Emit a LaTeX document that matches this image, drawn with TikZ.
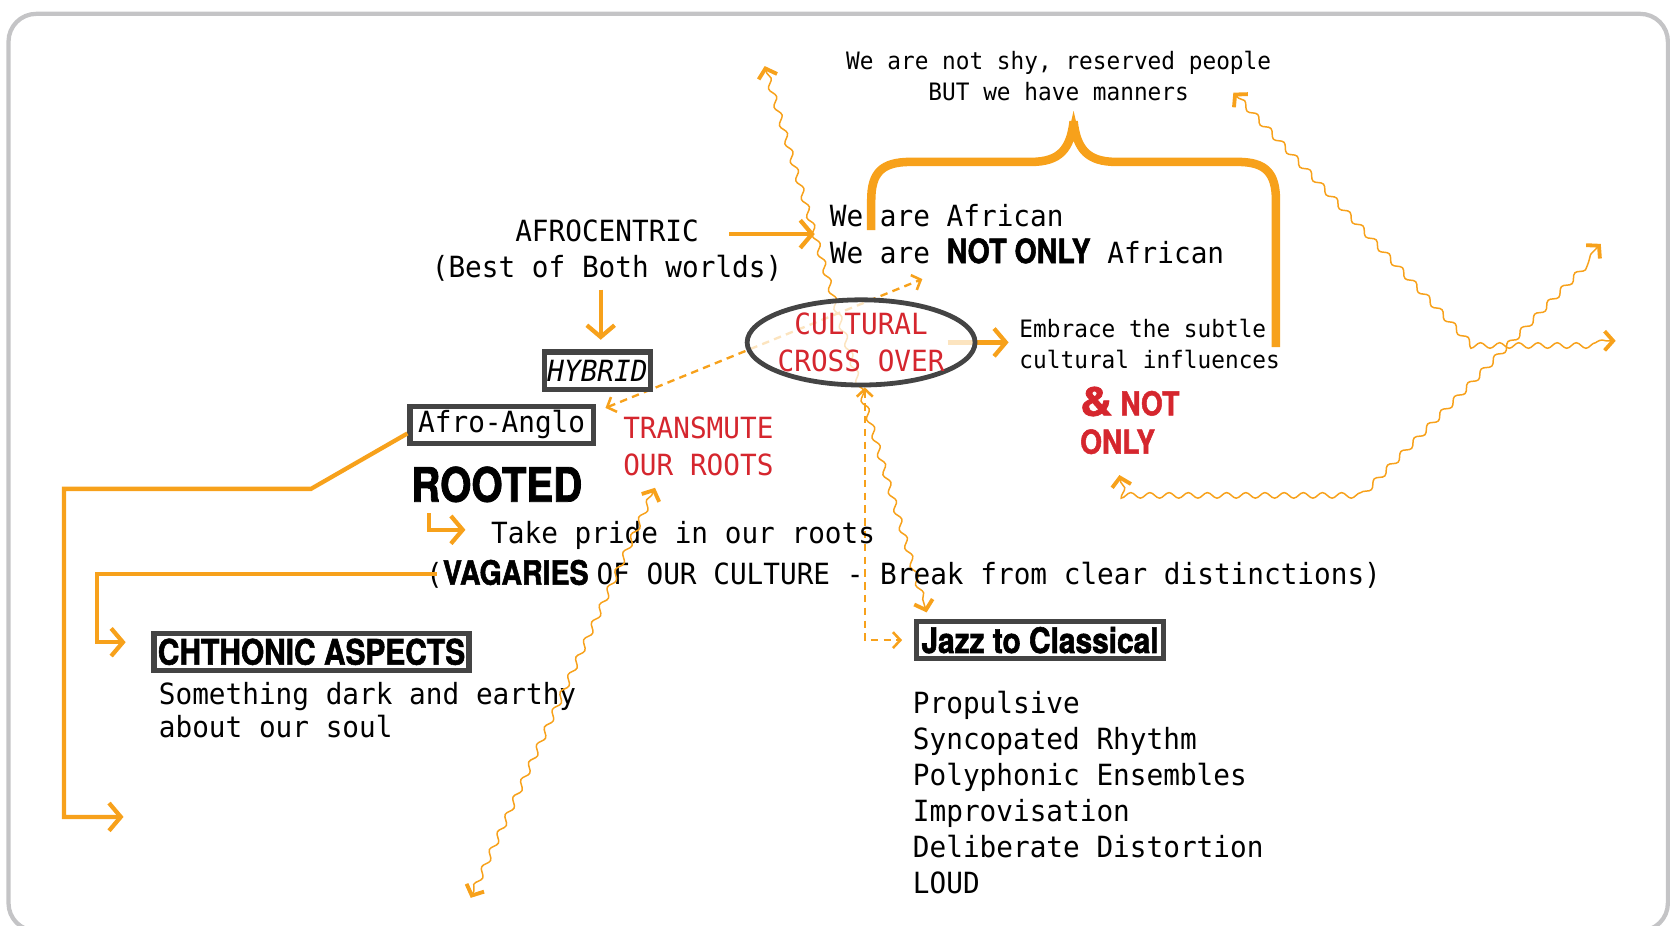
\documentclass[tikz,border=0pt]{standalone}
\usepackage{fontspec}
\usepackage{graphicx}
\usetikzlibrary{arrows.meta,decorations.pathmorphing,shapes.geometric}

\newfontfamily\monofont[FakeStretch=0.95]{DejaVu Sans Mono}
\newfontfamily\heavyfont[FakeStretch=0.85,FakeBold=1.6]{TeX Gyre Heros}

\newcommand\mainmono{\monofont\fontsize{27.4pt}{34pt}\selectfont}
\newcommand\smallmono{\monofont\fontsize{22.5pt}{29pt}\selectfont}
\newcommand\heavy[2]{\heavyfont\bfseries\fontsize{#1}{#2}\selectfont}

\definecolor{orng}{RGB}{247,161,27}
\definecolor{redtext}{RGB}{213,38,46}
\definecolor{boxgray}{RGB}{68,68,68}
\definecolor{framegray}{RGB}{196,196,198}

\pgfdeclarelayer{behind}
\pgfsetlayers{behind,main}

\tikzset{
  bigbarb/.tip={Straight Barb[length=11pt,width=26pt]},
  wavebarb/.tip={Straight Barb[length=8pt,width=18pt,line width=3.6pt]},
  dashbarb/.tip={Straight Barb[length=7pt,width=15pt,line width=2.4pt]},
  thickline/.style={draw=orng, line width=4pt},
  thickarrow/.style={thickline, -bigbarb},
  wavy/.style={draw=orng, line width=1.4pt, decorate,
    decoration={snake, amplitude=2.6pt, segment length=18pt, pre length=7pt, post length=7pt}},
  dashedline/.style={draw=orng, line width=2.2pt, dash pattern=on 7pt off 5pt},
  framebox/.style={draw=boxgray, line width=5pt, fill=white, inner sep=0pt},
  txt/.style={inner sep=0pt},
}

\begin{document}
\begin{tikzpicture}[x=1pt,y=-1pt]
\useasboundingbox (0,0) rectangle (1568,868.5);
\draw[framegray, line width=4pt, rounded corners=26pt] (8,13) rectangle (1566,874);

% free ends of connectors
\coordinate (topwave) at (718,62);
\coordinate (crossne) at (866,262);
\coordinate (lowend) at (116,767);
\coordinate (w2top) at (615,458);
\coordinate (w2bot) at (442,843);
\coordinate (w3start) at (1158,87);
\coordinate (w3end) at (1517,320);
\coordinate (w4start) at (1051,446);
\coordinate (w4end) at (1503,229);

% texts (multi-line nodes are placed by the baseline of their last line)
\node[txt, font=\smallmono, align=center, anchor=base] (shy) at (994,94)
  {We are not shy, reserved people\\BUT we have manners};
\node[txt, font=\mainmono, align=center, anchor=base] (afro) at (570,261)
  {AFROCENTRIC\\(Best of Both worlds)};
\node[txt, font=\mainmono, align=left, anchor=base west] (weare) at (779,247)
  {We are African\\We are {\heavy{31.5pt}{34pt}NOT ONLY} African};
\node[ellipse, draw=boxgray, line width=4.5pt, fill=white, fill opacity=0.72, text opacity=1,
      minimum width=214pt, minimum height=80pt, inner xsep=-12pt, inner ysep=-6pt,
      font=\mainmono, text=redtext, align=center] (cco) at (808.5,321.5) {CULTURAL\\CROSS OVER};
\node[txt, font=\smallmono, align=left, anchor=base west] (embr) at (957,346)
  {Embrace the subtle\\cultural influences};
\node[txt, font={\heavy{31pt}{36pt}}, text=redtext, align=left, anchor=base west] (notonly) at (1014,426)
  {\scalebox{1.6}[1.2]{\&} NOT\\ONLY};
\node[framebox, minimum width=99pt, minimum height=35pt, font=\mainmono\itshape] (hyb) at (561,348) {HYBRID};
\node[framebox, minimum width=172pt, minimum height=35pt, font=\mainmono] (anglo) at (471,399) {Afro-Anglo};
\node[txt, font=\mainmono, text=redtext, align=left, anchor=base west] (trans) at (585,446)
  {TRANSMUTE\\OUR ROOTS};
\node[txt, font={\heavy{44.4pt}{50pt}}, anchor=base west] (rooted) at (386,471) {ROOTED};
\node[txt, font=\mainmono, anchor=base west] (take) at (461,510) {Take pride in our roots};
\node[txt, font=\mainmono, anchor=base west] (vag) at (400,549)
  {({\heavy{31.5pt}{34pt}VAGARIES }OF OUR CULTURE - Break from clear distinctions)};
\node[framebox, minimum width=296pt, minimum height=35pt, font={\heavy{33pt}{36pt}}] (chth) at (292.5,612) {CHTHONIC ASPECTS};
\node[txt, font={\monofont\fontsize{27.4pt}{31pt}\selectfont}, align=left, anchor=base west] (soul) at (149,692)
  {Something dark and earthy\\about our soul};
\node[framebox, minimum width=232pt, minimum height=35pt, font={\heavy{33pt}{36pt}}] (jazz) at (976.5,601) {Jazz to Classical};
\node[txt, font={\monofont\fontsize{27.4pt}{33.8pt}\selectfont}, align=left, anchor=base west] (traits) at (857,839)
  {Propulsive\\Syncopated Rhythm\\Polyphonic Ensembles\\Improvisation\\Deliberate Distortion\\LOUD};

% connectors seen through the ellipse
\begin{pgfonlayer}{behind}
  \draw[wavy, wavebarb-wavebarb] (topwave) -- ([xshift=12pt,yshift=6pt]jazz.north west);
  \draw[dashedline, dashbarb-dashbarb] ([xshift=9pt,yshift=-4pt]anglo.north east) -- (crossne);
  \draw[thickarrow] ([xshift=-28pt]cco.east) -- ([xshift=-10pt]embr.west |- cco.east);
  \draw[dashedline, dashbarb-dashbarb] ([xshift=3.5pt]cco.south) |- ([xshift=-11pt]jazz.west);
\end{pgfonlayer}

% solid orange connectors
\draw[thickarrow] ([xshift=-50pt]afro.east |- weare.west) -- ([xshift=-14pt]weare.west);
\draw[thickarrow, shorten <=7pt, shorten >=9pt] ([xshift=3pt]hyb.north |- afro.south) -- ([xshift=3pt]hyb.north);
\draw[thickarrow] ([xshift=17pt,yshift=-10pt]rooted.south west) |- ([xshift=-24pt,yshift=5pt]take.west);
\draw[thickline, -bigbarb] ([yshift=-8pt]anglo.west) -- (292,459) -- (60,459) |- (lowend);
\draw[thickline, -bigbarb] ([xshift=10pt]vag.west) -| ([xshift=-51pt,yshift=9pt]chth.west)
  -- ([xshift=-24pt,yshift=9pt]chth.west);

% curly brace over the two statements
\draw[orng, line width=8pt, line join=bevel]
  (818,216) -- (818,188) .. controls (818,162) and (828,152) .. (855,152) -- (968,152)
  .. controls (995,152) and (1005,140) .. (1008,114)
  .. controls (1011,140) and (1021,152) .. (1048,152) -- (1162,152)
  .. controls (1188,152) and (1198,162) .. (1198,188) -- (1198,326);
\fill[orng] (1003,126) -- (1008,104) -- (1013,126) -- cycle;

% wavy connectors
\draw[wavy, wavebarb-wavebarb] (w2bot) -- (w2top);
\draw[wavy, wavebarb-wavebarb] (w3start) -- (1378,320) -- (w3end);
\draw[wavy, wavebarb-wavebarb] (w4start) -- (1054,461) -- (1277,461) -- (w4end);
\end{tikzpicture}
\end{document}
